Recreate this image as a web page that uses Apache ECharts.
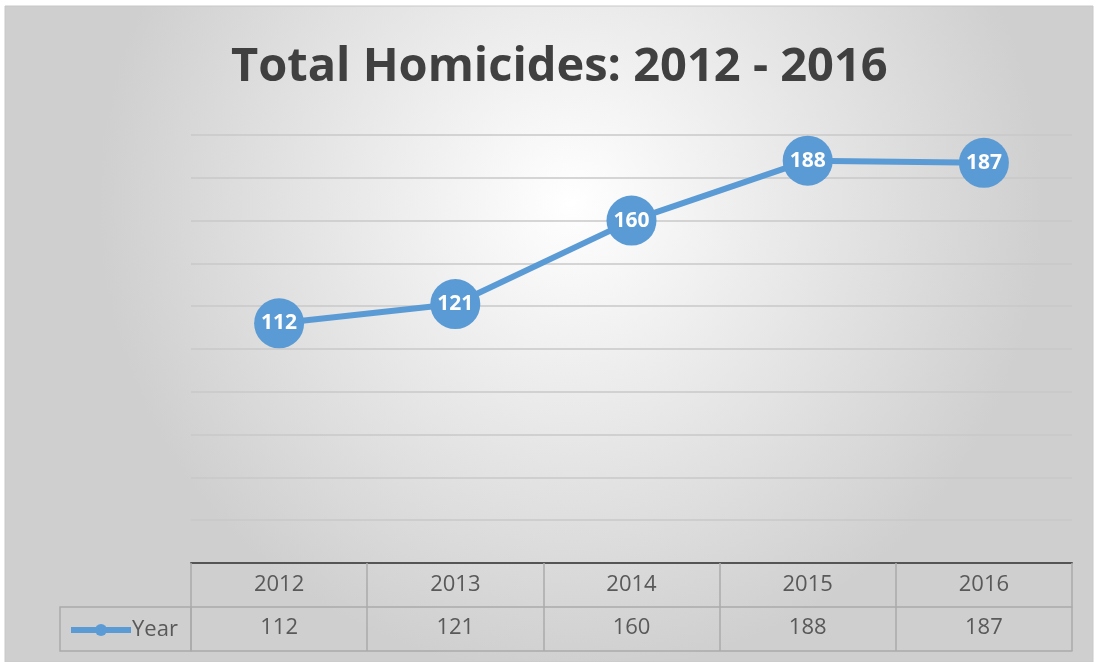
<!DOCTYPE html>
<html><head><meta charset="utf-8">
<script src="https://cdn.jsdelivr.net/npm/echarts@6/dist/echarts.min.js"></script>
<style>html,body{margin:0;padding:0;background:#fff;}#c{width:1096px;height:662px;}</style>
</head><body><div id="c"></div>
<script>
const title = 'Total Homicides: 2012 - 2016';
const seriesName = 'Year';
const categories = ['2012', '2013', '2014', '2015', '2016'];
const values = [112, 121, 160, 188, 187];
const yMin = 0, yMax = 200, yInterval = 20;

const chart = echarts.init(document.getElementById('c'));
const blue = '#5B9BD5';
const font = '"Open Sans", "Noto Sans", sans-serif';
const border = '#ababab';
chart.setOption({
  animation: false,
  graphic: [
    { type: 'rect', z: -10, shape: { x: 5, y: 6, width: 1088, height: 656 },
      style: { fill: { type: 'radial', x: 0.52, y: 0.3, r: 0.72,
        colorStops: [{ offset: 0, color: '#ffffff' }, { offset: 1, color: '#cfcfcf' }] },
        stroke: '#c8c8c8', lineWidth: 1 }, silent: true },
    { type: 'rect', z: 5, shape: { x: 60, y: 607, width: 131, height: 44 },
      style: { fill: 'none', stroke: border, lineWidth: 1.5 }, silent: true }
  ],
  title: {
    text: title, left: 226, top: 39,
    textStyle: { fontFamily: font, fontSize: 47, fontWeight: 'bold', color: '#404040' }
  },
  legend: {
    data: [seriesName], left: 63, top: 614,
    itemWidth: 60, itemHeight: 15, itemGap: 2,
    lineStyle: { width: 6 },
    textStyle: { fontFamily: font, fontSize: 22, color: '#595959', padding: [0, 0, 0, -4] }
  },
  grid: { left: 191, right: 24, top: 135, bottom: 99 },
  xAxis: [
    { type: 'category', data: categories, position: 'bottom', boundaryGap: true,
      axisLine: { lineStyle: { color: '#555555', width: 2 } },
      axisTick: { show: true, inside: false, length: 88, interval: 0, lineStyle: { color: border, width: 1.5 } },
      axisLabel: { margin: 11, fontFamily: font, fontSize: 22, color: '#595959' } },
    { type: 'category', data: categories, position: 'bottom', offset: 44, boundaryGap: true,
      axisLine: { show: true, lineStyle: { color: border, width: 1.5 } },
      axisTick: { show: false },
      axisLabel: { margin: 10, fontFamily: font, fontSize: 22, color: '#595959',
        formatter: (v, i) => String(values[i]) } },
    { type: 'category', data: categories, position: 'bottom', offset: 88, boundaryGap: true,
      axisLine: { show: true, lineStyle: { color: border, width: 1.5 } },
      axisTick: { show: false }, axisLabel: { show: false } }
  ],
  yAxis: {
    type: 'value', min: yMin, max: yMax, interval: yInterval,
    axisLine: { show: false }, axisTick: { show: false }, axisLabel: { show: false },
    splitLine: { lineStyle: { color: '#c8c8c8', width: 1.5 } }
  },
  series: [{
    name: seriesName, type: 'line', data: values, xAxisIndex: 0,
    symbol: 'circle', symbolSize: 50,
    lineStyle: { color: blue, width: 6 },
    itemStyle: { color: blue },
    label: { show: true, position: 'inside', fontFamily: font, fontSize: 21, fontWeight: 'bold', color: '#ffffff' },
    z: 10
  }]
});
</script></body></html>
